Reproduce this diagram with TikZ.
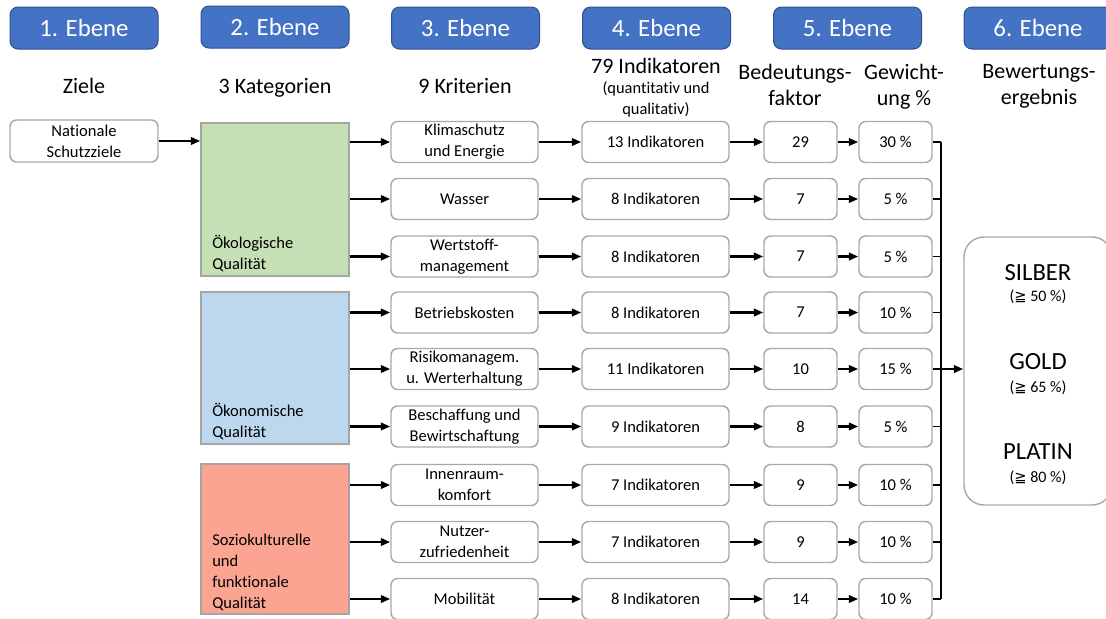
\documentclass[tikz,border=0pt]{standalone}
\usepackage{fontspec}
\setmainfont{Carlito}[Ligatures=NoCommon]
\newfontfamily\symfont{DejaVu Sans}
\usetikzlibrary{arrows.meta}

\definecolor{hdrblue}{HTML}{4472C4}
\definecolor{hdrborder}{HTML}{2F528F}
\definecolor{boxgray}{HTML}{A9A9A9}
\definecolor{catgray}{HTML}{A5A5A5}
\definecolor{ecogreen}{HTML}{C5E0B4}
\definecolor{econblue}{HTML}{BDD7EE}
\definecolor{socred}{HTML}{FCA492}

\newcommand{\geqq}{{\symfont\fontsize{11}{12}\selectfont ≧}}

\begin{document}
\begin{tikzpicture}[x=0.75pt,y=-0.75pt,
  hdr/.style={draw=hdrborder, fill=hdrblue, line width=0.75pt, rounded corners=6pt,
    minimum width=111pt, minimum height=31.5pt, inner sep=0pt, text=white,
    font=\fontsize{18.6}{22}\selectfont},
  sub/.style={inner sep=0pt, align=center, font=\fontsize{16.5}{19.5}\selectfont},
  subsmall/.style={inner sep=0pt, align=center, font=\fontsize{12.3}{15.75}\selectfont},
  wbox/.style={draw=boxgray, fill=white, line width=1.1pt, rounded corners=5pt,
    minimum height=30.75pt, inner sep=0pt, align=center,
    font=\fontsize{12.4}{16}\selectfont},
  wide/.style={wbox, minimum width=110.25pt},
  narrow/.style={wbox, minimum width=54.75pt},
  cat/.style={draw=catgray, line width=1.1pt, minimum width=111pt, inner sep=0pt},
  cattext/.style={inner sep=0pt, align=left, anchor=south west,
    font=\fontsize{12.4}{15.75}\selectfont},
  level/.style={inner sep=0pt, anchor=base, font=\fontsize{18.5}{22}\selectfont},
  pct/.style={inner sep=0pt, anchor=base, font=\fontsize{12}{14}\selectfont},
  arr/.style={line width=1.9pt, -{Triangle[length=7pt,width=5.5pt]}},
  thinline/.style={line width=1pt}]

\useasboundingbox (0,0) rectangle (1106,618);

% level headers
\node[hdr] (h1) at (84,28) {1. Ebene};
\node[hdr] (h2) at (275,27) {2. Ebene};
\node[hdr] (h3) at (465.5,28) {3. Ebene};
\node[hdr] (h4) at (656.5,28) {4. Ebene};
\node[hdr] (h5) at (847.5,28) {5. Ebene};
\node[hdr] (h6) at (1038,28) {6. Ebene};

% column titles
\node[sub, anchor=base] (tziele) at (84,93) {Ziele};
\node[sub, anchor=base] (tkat) at (275,93) {3 Kategorien};
\node[sub, anchor=base] (tkrit) at (465,93) {9 Kriterien};
\node[sub, anchor=base] (tind) at (656,73) {79 Indikatoren};
\node[subsmall, anchor=north] (tindsub) at (656,81) {(quantitativ und\\qualitativ)};
\node[sub, anchor=north] (tfak) at (795,64) {Bedeutungs-\\faktor};
\node[sub, anchor=north] (tgew) at (904,64) {Gewicht-\\ung \%};
\node[sub, anchor=north] (terg) at (1039,64) {Bewertungs-\\ergebnis};

% goals
\node[wide, minimum width=111pt, minimum height=31.5pt] (goal) at (84,141) {Nationale\\Schutzziele};

% categories
\node[cat, fill=ecogreen, minimum height=114.75pt] (cat1) at (275,199.5) {};
\node[cat, fill=econblue, minimum height=114pt] (cat2) at (275,368) {};
\node[cat, fill=socred, minimum height=112.5pt] (cat3) at (275,539) {};
\node[cattext] (cat1t) at (212,271.5) {Ökologische\\Qualität};
\node[cattext] (cat2t) at (212,440) {Ökonomische\\Qualität};
\node[cattext] (cat3t) at (212,611) {Soziokulturelle\\und\\funktionale\\Qualität};

% criteria
\node[wide] (c1) at (464.5,142) {Klimaschutz\\und Energie};
\node[wide] (c2) at (464.5,199) {Wasser};
\node[wide] (c3) at (464.5,256.5) {Wertstoff-\\management};
\node[wide] (c4) at (464.5,312.5) {Betriebskosten};
\node[wide] (c5) at (464.5,369) {Risikomanagem.\\u. Werterhaltung};
\node[wide] (c6) at (464.5,426.5) {Beschaffung und\\Bewirtschaftung};
\node[wide] (c7) at (464.5,485) {Innenraum-\\komfort};
\node[wide] (c8) at (464.5,542) {Nutzer-\\zufriedenheit};
\node[wide] (c9) at (464.5,599) {Mobilität};

% indicators
\node[wide] (i1) at (655.5,142) {13 Indikatoren};
\node[wide] (i2) at (655.5,199) {8 Indikatoren};
\node[wide] (i3) at (655.5,256.5) {8 Indikatoren};
\node[wide] (i4) at (655.5,312.5) {8 Indikatoren};
\node[wide] (i5) at (655.5,369) {11 Indikatoren};
\node[wide] (i6) at (655.5,426.5) {9 Indikatoren};
\node[wide] (i7) at (655.5,485) {7 Indikatoren};
\node[wide] (i8) at (655.5,542) {7 Indikatoren};
\node[wide] (i9) at (655.5,599) {8 Indikatoren};

% significance factors
\node[narrow] (f1) at (800.5,142) {29};
\node[narrow] (f2) at (800.5,199) {7};
\node[narrow] (f3) at (800.5,256.5) {7};
\node[narrow] (f4) at (800.5,312.5) {7};
\node[narrow] (f5) at (800.5,369) {10};
\node[narrow] (f6) at (800.5,426.5) {8};
\node[narrow] (f7) at (800.5,485) {9};
\node[narrow] (f8) at (800.5,542) {9};
\node[narrow] (f9) at (800.5,599) {14};

% weights
\node[narrow] (w1) at (895.5,142) {30 \%};
\node[narrow] (w2) at (895.5,199) {5 \%};
\node[narrow] (w3) at (895.5,256.5) {5 \%};
\node[narrow] (w4) at (895.5,312.5) {10 \%};
\node[narrow] (w5) at (895.5,369) {15 \%};
\node[narrow] (w6) at (895.5,426.5) {5 \%};
\node[narrow] (w7) at (895.5,485) {10 \%};
\node[narrow] (w8) at (895.5,542) {10 \%};
\node[narrow] (w9) at (895.5,599) {10 \%};

% result
\node[draw=boxgray, line width=1.1pt, rounded corners=15pt, minimum width=111pt,
  minimum height=201pt, inner sep=0pt] (res) at (1038,371) {};
\node[level] (silber) at (1038,280) {SILBER};
\node[pct] (silberp) at (1038,301) {(\geqq{} 50 \%)};
\node[level] (gold) at (1038,369) {GOLD};
\node[pct] (goldp) at (1038,392) {(\geqq{} 65 \%)};
\node[level] (platin) at (1038,459) {PLATIN};
\node[pct] (platinp) at (1038,482) {(\geqq{} 80 \%)};

% connectors
\draw[arr] (goal.east) -- (cat1.west |- goal.east);
\foreach \k in {1,2,3} \draw[arr] (cat1.east |- c\k) -- (c\k.west);
\foreach \k in {4,5,6} \draw[arr] (cat2.east |- c\k) -- (c\k.west);
\foreach \k in {7,8,9} \draw[arr] (cat3.east |- c\k) -- (c\k.west);
\foreach \k in {1,...,9} {
  \draw[arr] (c\k) -- (i\k);
  \draw[arr] (i\k) -- (f\k);
  \draw[arr] (f\k) -- (w\k);
}

% collecting bracket
\coordinate (bx) at (941,142);
\foreach \k in {1,...,9} \draw[thinline] (w\k.east) -- (w\k.east -| bx);
\draw[thinline] (bx |- w1.east) -- (bx |- w9.east);
\draw[arr] (bx |- w5.east) -- (res.west |- w5.east);

\end{tikzpicture}
\end{document}
